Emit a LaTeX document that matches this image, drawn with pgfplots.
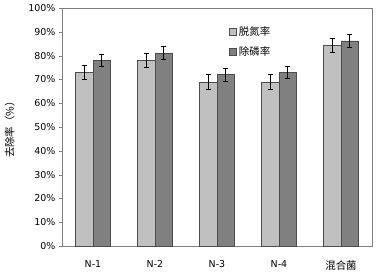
\documentclass[border=0pt]{standalone}
\usepackage{pgfplots}
\pgfplotsset{compat=1.18}
\usepackage{fontspec}
\setmainfont{DejaVu Sans}
\newfontfamily\cjk{Noto Sans CJK SC}
\definecolor{lightbar}{HTML}{C0C0C0}
\definecolor{darkbar}{HTML}{808080}
\definecolor{framec}{HTML}{7F7F7F}
\begin{document}
\begin{tikzpicture}[x=1bp,y=1bp]
\begin{axis}[
  scale only axis,
  width=310bp, height=238bp,
  xmin=-0.5, xmax=4.5, ymin=0, ymax=100,
  ybar, bar width=0.28,
  xtick={0,1,2,3,4},
  xticklabels={N-1,N-2,N-3,N-4,{\cjk\fontsize{10.5}{12}\selectfont 混合菌}},
  major x tick style={draw=none},
  extra x ticks={0.5,1.5,2.5,3.5},
  extra x tick labels={},
  extra x tick style={major tick length=3bp, tick align=outside, tick style={draw=framec}},
  ytick={0,10,...,100},
  yticklabel={\pgfmathprintnumber{\tick}\%},
  /pgf/number format/assume math mode=true,
  tick label style={font=\fontsize{9.5}{11}\selectfont},
  xticklabel style={yshift=-8bp},
  y tick style={draw=framec},
  tick align=outside, major tick length=3bp,
  ytick pos=left, xtick pos=bottom,
  axis line style={draw=framec},
  ylabel={\cjk 去除率（\%）},
  ylabel style={font=\fontsize{10.5}{12}\selectfont, yshift=7bp},
  legend style={at={(0.53,0.94)}, anchor=north west, draw=none, fill=none,
    font=\cjk\fontsize{10.5}{12}\selectfont, row sep=6bp},
  legend image code/.code={\draw[#1, draw=black!70, bar width=0.28] (0bp,-3.5bp) rectangle (7bp,3.5bp);},
  error bars/error bar style={black, line width=0.6pt},
  error bars/error mark options={rotate=90, mark size=2.5bp, line width=0.6pt, black},
]
\addplot[fill=lightbar, draw=black!70, bar shift=-0.14,
  error bars/.cd, y dir=both, y explicit]
  coordinates {(0,73) +- (0,3) (1,78) +- (0,3) (2,69) +- (0,3) (3,69) +- (0,3) (4,84.3) +- (0,3)};
\addlegendentry{脱氮率}
\addplot[fill=darkbar, draw=black!70, bar shift=0.14,
  error bars/.cd, y dir=both, y explicit]
  coordinates {(0,78) +- (0,2.7) (1,81) +- (0,2.7) (2,72) +- (0,2.6) (3,73) +- (0,2.7) (4,86.2) +- (0,2.7)};
\addlegendentry{除磷率}
\end{axis}
\pgfresetboundingbox
\path (current axis.south west) +(-62bp,-25bp) (current axis.north east) +(5bp,8bp);
\end{tikzpicture}
\end{document}
